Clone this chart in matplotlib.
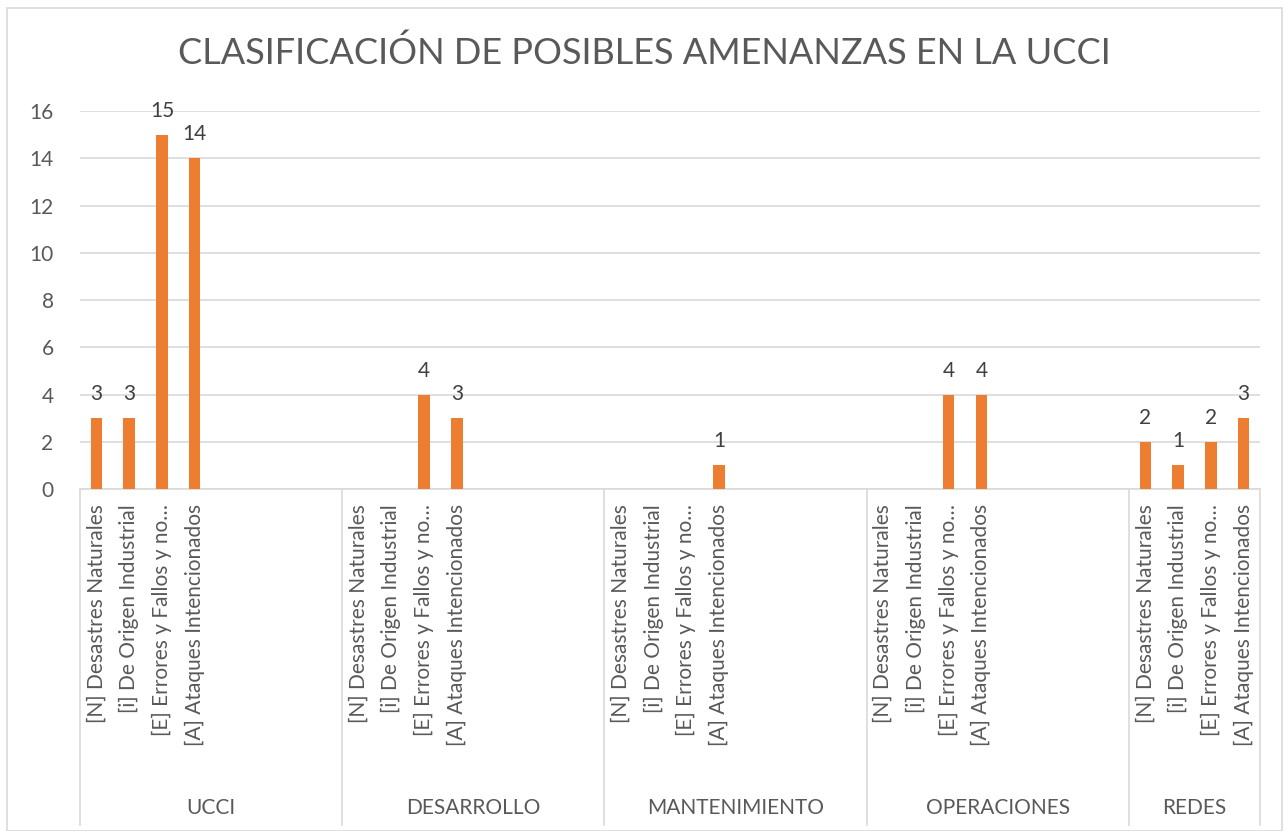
import numpy as np
import matplotlib
matplotlib.use("Agg")
from matplotlib import pyplot as plt
from matplotlib.patches import Rectangle

plt.rcParams['font.family'] = ['Lato', 'DejaVu Sans']

title = 'CLASIFICACIÓN DE POSIBLES AMENANZAS EN LA UCCI'
groups = ['UCCI', 'DESARROLLO', 'MANTENIMIENTO', 'OPERACIONES', 'REDES']
subcats = ['[N] Desastres Naturales', '[i] De Origen Industrial',
           '[E] Errores y Fallos y no…', '[A] Ataques Intencionados']
nan = np.nan
ucci = [3, 3, 15, 14]
desarrollo = [nan, nan, 4, 3]
mantenimiento = [nan, nan, nan, 1]
operaciones = [nan, nan, 4, 4]
redes = [2, 1, 2, 3]
series = [ucci, desarrollo, mantenimiento, operaciones, redes]
# each group occupies 8 category slots in the sheet (4 blank rows), last one only 4
slots = [8, 8, 8, 8, 4]

bar_color = '#ED7D31'
text_color = '#595959'
grid_color = '#D9D9D9'

fig = plt.figure(figsize=(12.88, 8.31), dpi=100)
ax = fig.add_axes([80 / 1288, 1 - 489 / 831, 1180 / 1288, 378 / 831])

xs, vals, labels = [], [], []
start = 0
for g, vs, n in zip(groups, series, slots):
    for i, v in enumerate(vs):
        xs.append(start + i)
        vals.append(v)
        labels.append(subcats[i])
    start += n
total = start

ax.bar(xs, vals, width=0.35, color=bar_color, zorder=3)
for x, v in zip(xs, vals):
    if not np.isnan(v):
        ax.annotate(str(int(v)), (x, v), xytext=(0, 10), textcoords='offset points',
                    ha='center', va='bottom', fontsize=15, color='#404040')

ax.set_xlim(-0.5, total - 0.5)
ax.set_ylim(0, 16)
ax.set_yticks(range(0, 17, 2))
ax.yaxis.grid(True, color=grid_color, linewidth=1.2, zorder=0)
ax.tick_params(axis='y', length=0, labelsize=15, labelcolor=text_color, pad=19)
ax.set_xticks([])
for s in ['top', 'right', 'left']:
    ax.spines[s].set_visible(False)
ax.spines['bottom'].set_color(grid_color)
ax.spines['bottom'].set_linewidth(1.2)

# rotated category labels
for x, lab in zip(xs, labels):
    ax.annotate(lab, (x, 0), xytext=(0, -11), textcoords='offset points',
                rotation=90, ha='center', va='top', fontsize=15,
                color=text_color, annotation_clip=False)

# group separators and group names
bounds = np.cumsum([0] + slots) - 0.5
ax_h = 378
for b in bounds:
    ax.plot([b, b], [0, -336 / ax_h * 16], color=grid_color, linewidth=1.2,
            clip_on=False, zorder=1)
for g, lo, hi in zip(groups, bounds[:-1], bounds[1:]):
    ax.text((lo + hi) / 2, -319 / ax_h * 16, g, ha='center', va='center',
            fontsize=15, color=text_color)

fig.text(0.5, 1 - 53 / 831, title, ha='center', va='center', fontsize=26,
         color=text_color)
fig.patches.append(Rectangle((7 / 1288, 0), 1275 / 1288, 1 - 8 / 831,
                             transform=fig.transFigure, fill=False,
                             edgecolor=grid_color, linewidth=1.2))

fig.savefig('out.png', dpi=100)
